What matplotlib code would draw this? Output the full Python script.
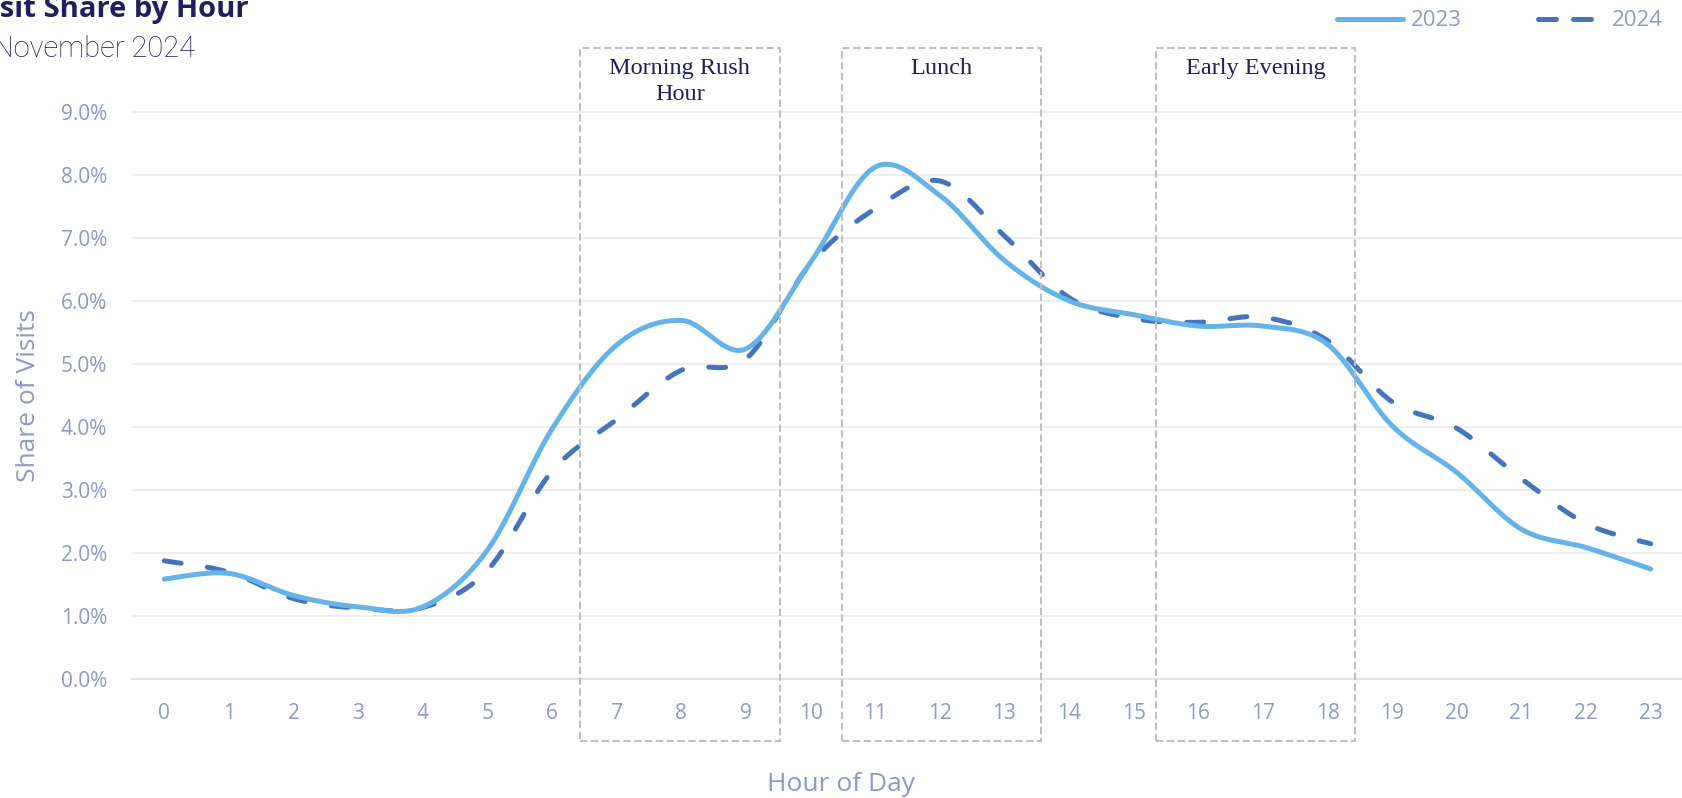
import numpy as np
import matplotlib.pyplot as plt
from matplotlib.lines import Line2D
from matplotlib.patches import Rectangle

plt.rcParams['font.family'] = ['Open Sans', 'DejaVu Sans']

# data (share of visits, %)
hours = list(range(24))
share_2023 = [1.59, 1.68, 1.33, 1.15, 1.15, 2.05, 3.97, 5.30, 5.69, 5.24, 6.61, 8.12,
              7.67, 6.64, 6.00, 5.78, 5.60, 5.60, 5.31, 4.02, 3.28, 2.38, 2.09, 1.75]
share_2024 = [1.88, 1.70, 1.28, 1.13, 1.14, 1.73, 3.30, 4.12, 4.90, 5.08, 6.59, 7.46,
              7.90, 7.03, 6.05, 5.72, 5.66, 5.74, 5.37, 4.40, 3.98, 3.18, 2.47, 2.15]
y_ticks = [0, 1, 2, 3, 4, 5, 6, 7, 8, 9]
series_names = ['2023', '2024']
periods = ['Morning Rush\nHour', 'Lunch', 'Early Evening']

TICK_COLOR = '#8e9ac1'
NAVY = '#221e5b'
C2023 = '#65b3e7'
C2024 = '#4574bd'
BOX_COLOR = '#c0c0c0'
LW = 3.6


def smooth(x, y, n=40):
    # Excel-style smoothed line: cubic bezier with catmull-rom control points
    P = np.column_stack([x, y]).astype(float)
    Q = np.vstack([P[:1], P, P[-1:]])
    t = np.linspace(0, 1, n)[:, None]
    pts = []
    for i in range(len(P) - 1):
        p0, p3 = Q[i + 1], Q[i + 2]
        c1 = p0 + (Q[i + 2] - Q[i]) / 6
        c2 = p3 - (Q[i + 3] - Q[i + 1]) / 6
        seg = ((1 - t) ** 3) * p0 + 3 * ((1 - t) ** 2) * t * c1 + 3 * (1 - t) * t ** 2 * c2 + t ** 3 * p3
        pts.append(seg if i == 0 else seg[1:])
    pts = np.vstack(pts)
    return pts[:, 0], pts[:, 1]


fig = plt.figure(figsize=(16.83, 7.98), dpi=100)
ax = fig.add_axes([132 / 1683, 1 - 679.4 / 798, 1551 / 1683, 571 / 798])

x1, y1 = smooth(hours, share_2023)
x2, y2 = smooth(hours, share_2024)
ax.plot(x2, y2, color=C2024, lw=LW, zorder=2, ls=(0, (3.4, 5.3)), dash_capstyle='round')
ax.plot(x1, y1, color=C2023, lw=LW, zorder=2, solid_capstyle='round')

ax.set_xlim(-0.5, 23.5)
ax.set_ylim(0, 9.05)
ax.set_xticks(hours)
ax.set_yticks(y_ticks)
ax.set_yticklabels([f'{v:.1f}%' for v in y_ticks])
ax.tick_params(axis='both', length=0, labelsize=15, labelcolor=TICK_COLOR)
ax.tick_params(axis='y', pad=18)
ax.tick_params(axis='x', pad=17)
ax.grid(axis='y', color='#eeeeee', lw=1.5, zorder=0)
for side in ['top', 'left', 'right']:
    ax.spines[side].set_visible(False)
ax.spines['bottom'].set_color('#dde2ec')
ax.spines['bottom'].set_linewidth(1.5)

# highlighted time windows
spans = [(6.43, 9.52), (10.48, 13.56), (15.35, 18.43)]
for (x0, x1b), label in zip(spans, periods):
    ax.add_patch(Rectangle((x0, -0.97), x1b - x0, 10.97, fill=False, edgecolor=BOX_COLOR,
                           lw=1.5, ls=(0, (3.5, 1.7)), clip_on=False, zorder=3))
    ax.text((x0 + x1b) / 2, 9.85, label, ha='center', va='top', fontsize=17.5,
            family='Liberation Serif', color=NAVY, linespacing=1.3, clip_on=False)

fig.text(29 / 1683, 1 - 395.5 / 798, 'Share of Visits', rotation=90, ha='center', va='center',
         fontsize=19, color=TICK_COLOR)
fig.text(0.5, 1 - 790.7 / 798, 'Hour of Day', ha='center', va='baseline',
         fontsize=19, color=TICK_COLOR)

# title block is cut at the left edge, as in the source image
fig.text(249 / 1683, 1 - 17 / 798, 'Visit Share by Hour', ha='right', va='baseline',
         fontsize=21, weight='bold', color=NAVY)
fig.text(195 / 1683, 1 - 57 / 798, 'November 2024', ha='right', va='baseline',
         fontsize=21, weight='light', color=NAVY, family=['Roboto', 'Open Sans'])

handles = [Line2D([], [], color=C2023, lw=LW, solid_capstyle='round'),
           Line2D([], [], color=C2024, lw=LW, ls=(0, (3.6, 3.4)), dash_capstyle='round')]
fig.legend(handles, series_names, loc='center right', bbox_to_anchor=(1663 / 1683, 1 - 21 / 798),
           ncol=2, frameon=False, fontsize=16, labelcolor=TICK_COLOR, handlelength=3.0,
           handletextpad=0.35, columnspacing=3.4, borderpad=0, borderaxespad=0)

fig.savefig('out.png', dpi=100)
